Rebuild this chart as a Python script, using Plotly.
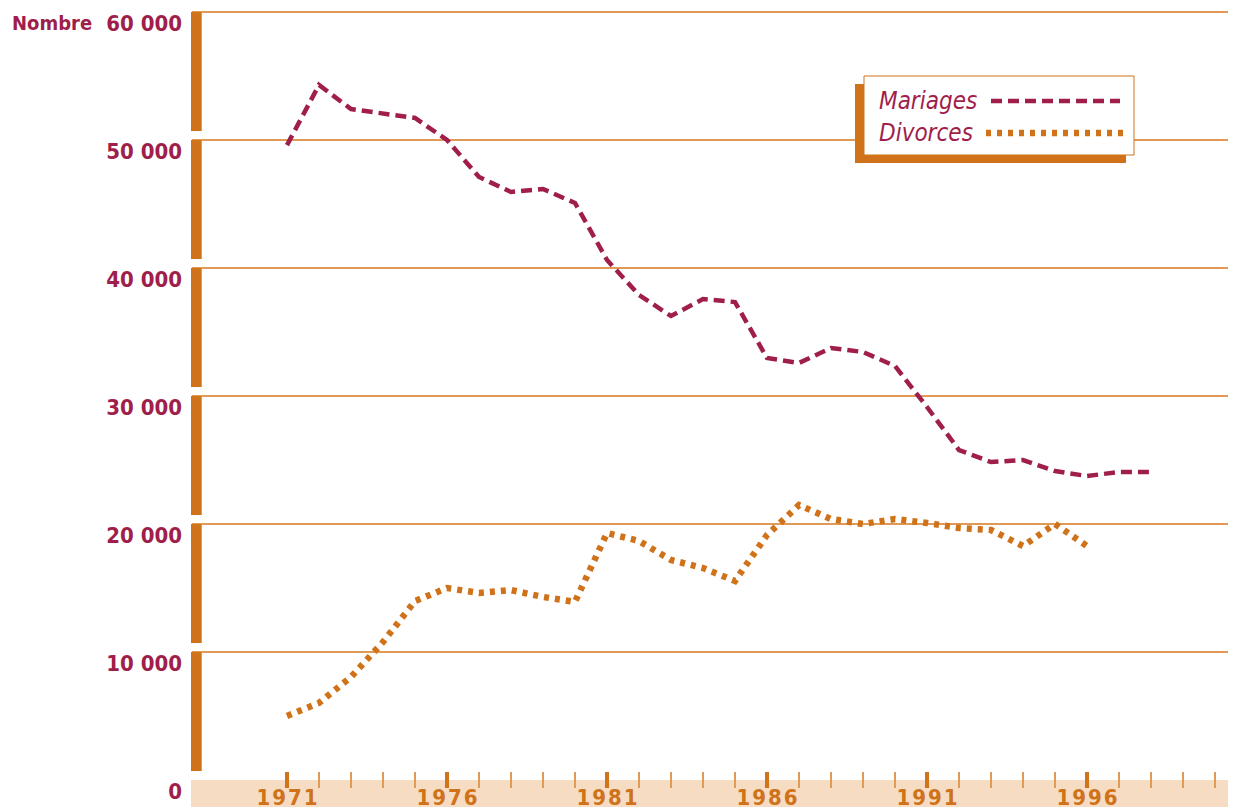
import plotly.graph_objects as go

# data
YEARS_MAR = list(range(1971, 1999))
MARIAGES = [49600, 54300, 52420, 52110, 51720, 50000, 47110, 45940, 46170, 45080,
            40630, 37890, 36250, 37580, 37340, 32970, 32580, 33750, 33440, 32340,
            29140, 25780, 24840, 25000, 24140, 23750, 24060, 24060]
YEARS_DIV = list(range(1971, 1997))
DIVORCES = [5000, 6020, 8050, 10780, 13980, 15000, 14610, 14840, 14300, 13910,
            19300, 18670, 17190, 16560, 15550, 19140, 21480, 20390, 20000, 20390,
            20080, 19690, 19530, 18280, 20000, 18280]

Y_TICKS = [0, 10000, 20000, 30000, 40000, 50000, 60000]
Y_LABELS = ["0", "10 000", "20 000", "30 000", "40 000", "50 000", "60 000"]
X_MAJOR = [1971, 1976, 1981, 1986, 1991, 1996]
X_MINOR = list(range(1971, 2001))

CRIMSON = "#A01E4B"
ORANGE = "#CF7219"
GRID = "#E09A58"
BAND = "#F6DCC3"
FONT = "Liberation Sans Narrow, DejaVu Sans Condensed, Arial Narrow, sans-serif"

# the page adds an 8px body margin; the figure runs 8px past the window on the right
W, H = 1236, 799
L, R, T, B = 184, 8, 1, 19
PW, PH = W - L - R, H - T - B
PX = 10000 / 128  # data units per pixel


def px_x(x):
    # screen x -> paper
    return (x - 192) / PW


def px_y(y):
    # screen y -> paper
    return (788 - y) / PH


fig = go.Figure()
fig.add_trace(go.Scatter(
    x=YEARS_MAR, y=MARIAGES, mode="lines", name="Mariages",
    line=dict(color=CRIMSON, width=4.5, dash="11px,6px"),
    showlegend=False,
))
fig.add_trace(go.Scatter(
    x=YEARS_DIV, y=DIVORCES, mode="lines", name="Divorces",
    line=dict(color=ORANGE, width=6.5, dash="5px,6px"),
    showlegend=False,
))

shapes = []
# beige band under the x axis
shapes.append(dict(type="rect", xref="paper", yref="paper", ysizemode="pixel", yanchor=0,
                   x0=-1 / PW, x1=1, y0=8, y1=-B, fillcolor=BAND, line_width=0, layer="below"))
# segmented left bar: each piece hangs from its grid line, with a gap above the next one
for k in range(6):
    shapes.append(dict(type="rect", xref="paper", yref="y", xsizemode="pixel", xanchor=0,
                       x0=-1, x1=9, y0=k * 10000 + 9 * PX, y1=(k + 1) * 10000,
                       fillcolor=ORANGE, line_width=0, layer="above"))
    shapes.append(dict(type="rect", xref="paper", yref="y", xsizemode="pixel", xanchor=0,
                       x0=9, x1=10, y0=k * 10000 + 9 * PX, y1=(k + 1) * 10000,
                       fillcolor=GRID, line_width=0, layer="above"))

# legend box with offset shadow
shapes.append(dict(type="rect", xref="paper", yref="paper",
                   x0=px_x(855), x1=px_x(1126), y0=px_y(163), y1=px_y(84),
                   fillcolor=ORANGE, line_width=0, layer="above"))
shapes.append(dict(type="rect", xref="paper", yref="paper",
                   x0=px_x(864), x1=px_x(1134), y0=px_y(155), y1=px_y(76),
                   fillcolor="white", line=dict(color=ORANGE, width=1), layer="above"))
shapes.append(dict(type="line", xref="paper", yref="paper",
                   x0=px_x(991), x1=px_x(1120), y0=px_y(101), y1=px_y(101),
                   line=dict(color=CRIMSON, width=4.5, dash="11px,6px"), layer="above"))
shapes.append(dict(type="line", xref="paper", yref="paper",
                   x0=px_x(986), x1=px_x(1124), y0=px_y(133), y1=px_y(133),
                   line=dict(color=ORANGE, width=6.5, dash="5px,6px"), layer="above"))

annotations = [
    dict(text="Nombre", xref="paper", yref="paper", x=px_x(10), y=px_y(23),
         xanchor="left", yanchor="middle", showarrow=False,
         font=dict(family=FONT, size=20, color=CRIMSON, weight="bold")),
    dict(text="<i>Mariages</i>", xref="paper", yref="paper", x=px_x(877), y=px_y(101),
         xanchor="left", yanchor="middle", showarrow=False,
         font=dict(family=FONT, size=24, color=CRIMSON)),
    dict(text="<i>Divorces</i>", xref="paper", yref="paper", x=px_x(877), y=px_y(133),
         xanchor="left", yanchor="middle", showarrow=False,
         font=dict(family=FONT, size=24, color=CRIMSON)),
]

fig.update_layout(
    width=W, height=H,
    margin=dict(l=L, r=R, t=T, b=B, pad=0),
    paper_bgcolor="white", plot_bgcolor="white",
    shapes=shapes, annotations=annotations,
    xaxis=dict(
        range=[1971 - 95 / 32, 1971 + 949 / 32], automargin=False,
        tickmode="array", tickvals=X_MAJOR,
        ticktext=["\u200a".join(str(y)) for y in X_MAJOR],
        ticks="inside", ticklen=16, tickwidth=4, tickcolor=ORANGE,
        minor=dict(tickmode="array", tickvals=X_MINOR, ticks="inside",
                   ticklen=16, tickwidth=2, tickcolor=GRID),
        tickfont=dict(family=FONT, size=22, color=ORANGE, weight="bold"),
        ticklabelstandoff=-6,
        showgrid=False, zeroline=False, showline=False,
    ),
    yaxis=dict(
        range=[-8 * PX, 60000 + 3 * PX], automargin=False,
        tickmode="array", tickvals=Y_TICKS, ticktext=Y_LABELS,
        ticks="", ticklabelstandoff=9, ticklabelshift=11,
        tickfont=dict(family=FONT, size=22, color=CRIMSON, weight="bold"),
        showgrid=True, gridcolor=GRID, gridwidth=2,
        zeroline=True, zerolinecolor=BAND, zerolinewidth=1, showline=False,
    ),
)

fig.write_html("out.html")
